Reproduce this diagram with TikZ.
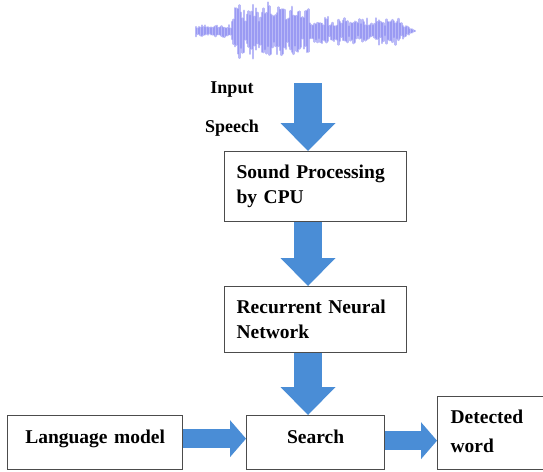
\documentclass[tikz,border=0pt]{standalone}
\usepackage{fontspec}
\setmainfont{Liberation Serif}
\usetikzlibrary{arrows.meta}
\definecolor{arrowblue}{RGB}{74,141,214}
\definecolor{wavecol}{RGB}{128,128,240}

\begin{document}
\begin{tikzpicture}[x=1pt,y=-1pt,
  box/.style={draw=black!70, line width=1.3pt, fill=white, anchor=north west,
    inner xsep=12pt, inner ysep=2pt, font=\bfseries\fontsize{19.5}{25}\selectfont},
  onerow/.style={inner ysep=0pt, text height=14pt, text depth=12pt},
  vbig/.style={arrowblue, line width=28pt,
    -{Triangle[length=28pt,width=55pt,line width=0pt]}},
  hbig/.style={arrowblue, line width=19pt,
    -{Triangle[length=16pt,width=37pt,line width=0pt]}},
  wave/.style={wavecol, line width=2.2pt, opacity=0.55, line cap=round}]
  \useasboundingbox (0,0) rectangle (543,471);
  \clip (0,0) rectangle (543,471);

  % Speech signal
  \pgfmathsetseed{11}
  \foreach \i in {0,...,146}{
    \pgfmathsetmacro{\wx}{196+1.5*\i}
    \pgfmathsetmacro{\env}{\wx<232 ? 4+3*rnd : (\wx<310 ? 14+15*abs(sin(12.8*(\wx-232))) : (\wx<400 ? 8+8*rnd : 9*(415-\wx)/15))}
    \pgfmathsetmacro{\up}{\env*(0.5+0.5*rnd)}
    \pgfmathsetmacro{\dn}{\env*(0.5+0.55*rnd)}
    \draw[wave] (\wx,31-\up) -- (\wx,31+\dn);
  }

  % Blocks
  \node[box, text width=158pt, align=left, minimum height=70pt] (sp) at (224,151)
    {Sound Processing\\by CPU};
  \node[box, text width=158pt, align=left, minimum height=66pt] (rnn) at (224,286)
    {Recurrent Neural\\Network};
  \node[box, onerow, text width=151pt, align=center, minimum height=54pt] (lm) at (7,415)
    {Language model};
  \node[box, onerow, text width=114pt, align=center, minimum height=54pt] (search) at (246,415)
    {Search};
  \node[box, inner xsep=13pt, inner ysep=0pt, text width=110pt, align=left,
    minimum height=73pt, text height=14pt, text depth=33pt] (det) at (437,396)
    {Detected\\[4pt]word};

  % Input label
  \node[anchor=north, inner sep=0pt, align=center,
    font=\bfseries\fontsize{18}{39}\selectfont] (inlbl) at (232,82) {Input\\Speech};

  % Arrows
  \coordinate (src) at (308,83);
  \draw[vbig] (src) -- (src |- sp.north);
  \draw[vbig] (sp.south -| src) -- (rnn.north -| src);
  \draw[vbig] (rnn.south -| src) -- (search.north -| src);
  \draw[hbig] ([yshift=4pt]lm.east) -- ([yshift=4pt]lm.east -| search.west);
  \draw[hbig] ([yshift=2pt]search.east) -- ([yshift=2pt]search.east -| det.west);
\end{tikzpicture}
\end{document}
